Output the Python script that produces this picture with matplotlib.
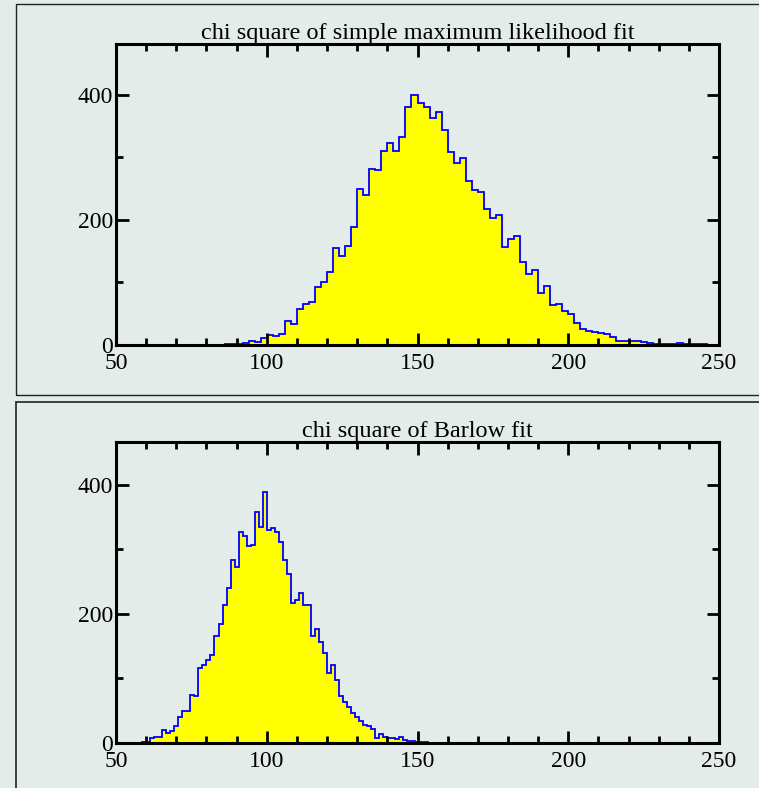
import matplotlib.pyplot as plt
import matplotlib.patches as patches
import numpy as np

plt.rcParams['font.family'] = ['Liberation Serif', 'DejaVu Serif']

# top histogram: chi square of simple ML fit, bins of width 2 starting at 84
top_lo = 84
top_width = 2
top_counts = [0, 1, 1, 2, 3, 6, 4, 11, 16, 14, 17, 38, 33, 57, 66, 68, 93, 100,
              116, 155, 143, 159, 189, 250, 239, 281, 279, 310, 323, 310, 332,
              381, 400, 386, 380, 362, 373, 343, 309, 291, 299, 262, 248, 244,
              218, 203, 207, 156, 169, 174, 133, 114, 120, 83, 95, 64, 66, 54,
              49, 35, 26, 23, 20, 19, 17, 12, 7, 7, 7, 6, 4, 3, 2, 2, 2, 2, 3,
              2, 1, 1, 1, 0, 0]

# bottom histogram: chi square of Barlow fit, bins of width 4/3 starting at 58.67
bot_width = 4 / 3
bot_lo = 44 * bot_width
bot_counts = [1, 2, 7, 9, 9, 20, 15, 18, 26, 40, 50, 49, 75, 72, 116, 120,
              128, 137, 166, 184, 214, 240, 283, 272, 327, 320, 305, 307, 358,
              335, 388, 330, 333, 327, 311, 283, 262, 217, 221, 233, 214, 214,
              165, 176, 157, 140, 109, 120, 97, 72, 64, 56, 46, 41, 34, 28, 26,
              21, 7, 14, 10, 8, 7, 6, 9, 5, 3, 3, 2, 2, 1, 0]

titles = ['chi square of simple maximum likelihood fit', 'chi square of Barlow fit']
ylims = [481, 466]
bg = '#e4ece9'

fig = plt.figure(figsize=(7.59, 7.88), dpi=100, facecolor=bg)

# panel frames
fig.add_artist(patches.Rectangle((16/759, 1-395/788), 760/759, 391/788, transform=fig.transFigure,
                                 fill=False, edgecolor='#222222', linewidth=1.0))
fig.add_artist(patches.Rectangle((16/759, -0.01), 760/759, 1-402/788+0.01, transform=fig.transFigure,
                                 fill=False, edgecolor='#222222', linewidth=1.2))

ax1 = fig.add_axes([116/759, 1-345/788, 603/759, 301/788])
ax2 = fig.add_axes([116/759, 1-743/788, 603/759, 301/788])

data = [(top_lo, top_width, top_counts), (bot_lo, bot_width, bot_counts)]

for ax, (lo, w, counts), title, ytop in zip([ax1, ax2], data, titles, ylims):
    counts = np.array(counts)
    edges = lo + w * np.arange(len(counts) + 1)
    ax.set_facecolor(bg)
    ax.stairs(counts, edges, fill=True, color='#ffff00')
    ax.stairs(counts, edges, color='#0000ff', linewidth=1.3)
    ax.set_xlim(50, 250)
    ax.set_ylim(0, ytop)
    ax.set_xticks([50, 100, 150, 200, 250])
    ax.set_xticks(np.arange(60, 250, 10), minor=True)
    ax.set_yticks([0, 200, 400])
    ax.set_yticks([100, 300], minor=True)
    ax.tick_params(which='both', direction='in', top=True, right=True,
                   labelsize=17, pad=2, width=2)
    ax.tick_params(axis='x', which='major', pad=6)
    ax.tick_params(which='major', length=9)
    ax.tick_params(which='minor', length=5)
    for s in ax.spines.values():
        s.set_linewidth(2.2)
    ax.set_title(title, fontsize=17.5, pad=0)

plt.savefig('out.png', dpi=100, facecolor=bg)
